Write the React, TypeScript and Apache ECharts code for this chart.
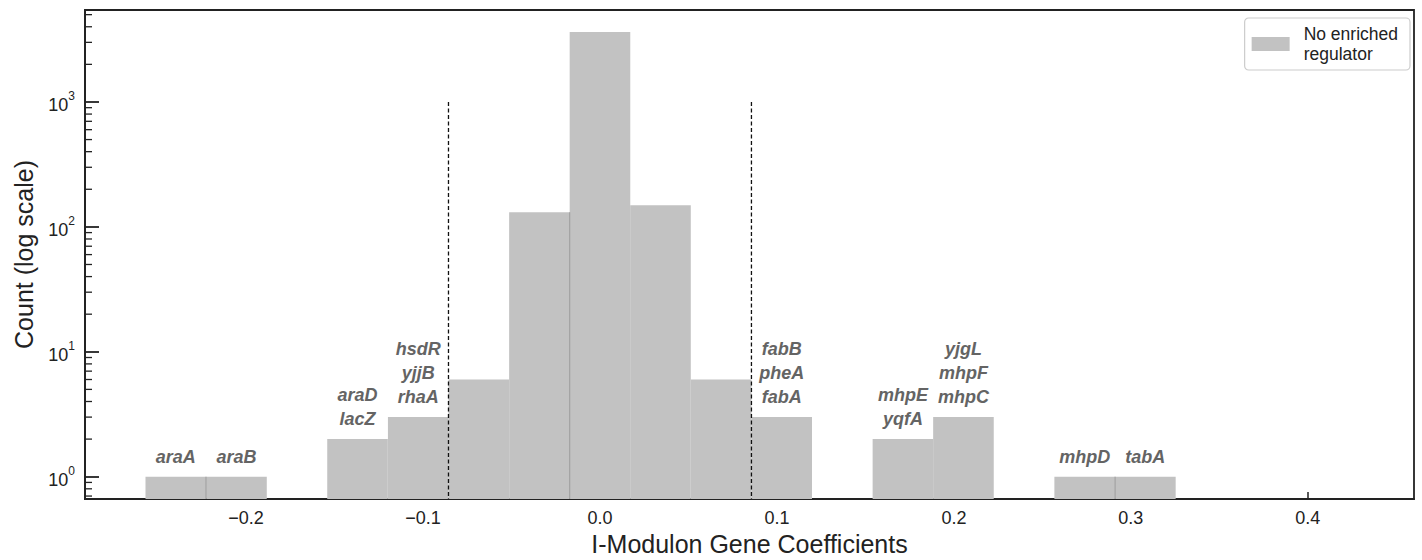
import React, { useEffect, useRef } from "react";
import * as echarts from "echarts";

// Histogram bins (bin centres, shared width) and counts per bin
const BIN_WIDTH = 0.03424;
const BIN_CENTERS = [
  -0.2397, -0.2054, -0.137, -0.1027, -0.0685, -0.0342, 0.0, 0.0342, 0.0685,
  0.1027, 0.1712, 0.2054, 0.2739, 0.3082,
];
const BIN_COUNTS = [1, 1, 2, 3, 6, 131, 3640, 149, 6, 3, 2, 3, 1, 1];
// Gene names printed above each outlying bin (top line first)
const BIN_GENES: string[][] = [
  ["araA"],
  ["araB"],
  ["araD", "lacZ"],
  ["hsdR", "yjjB", "rhaA"],
  [],
  [],
  [],
  [],
  [],
  ["fabB", "pheA", "fabA"],
  ["mhpE", "yqfA"],
  ["yjgL", "mhpF", "mhpC"],
  ["mhpD"],
  ["tabA"],
];
// Bin edges where a thin divider is visible between neighbouring bars
const DIVIDER_EDGES = [-0.2226, -0.0171, 0.2911];
// Significance thresholds (dashed lines) and their top value
const THRESHOLDS = [-0.0856, 0.0856];
const THRESHOLD_TOP = 1000;

const X_MIN = -0.291;
const X_MAX = 0.46;
const Y_MIN = 0.663;
const Y_MAX = 5448;

const MINOR_TICKS: number[] = [];
for (let e = -1; e <= 3; e++) {
  for (let m = 2; m <= 9; m++) {
    const v = m * Math.pow(10, e);
    if (v > Y_MIN && v < Y_MAX) MINOR_TICKS.push(v);
  }
}

const FONT = "Liberation Sans, Arial, sans-serif";
const BAR_COLOR = "#c2c2c2";
const LEGEND_NAME = "No enriched regulator";

export default function App() {
  const ref = useRef<HTMLDivElement>(null);

  useEffect(() => {
    if (!ref.current) return;
    const chart = echarts.init(ref.current, undefined, { renderer: "svg" });

    const barData = BIN_CENTERS.map((c, i) => [c, BIN_COUNTS[i], i]);

    chart.setOption({
      animation: false,
      backgroundColor: "#ffffff",
      grid: {
        left: 85,
        top: 10,
        width: 1329,
        height: 489,
        outerBoundsMode: "none",
        containLabel: false,
        show: true,
        borderColor: "#222222",
        borderWidth: 1.8,
        backgroundColor: "transparent",
      },
      legend: {
        right: 12,
        top: 18,
        orient: "vertical",
        data: [{ name: LEGEND_NAME, icon: "rect" }],
        itemWidth: 38,
        itemHeight: 14,
        padding: [6, 12, 6, 7],
        borderColor: "#cccccc",
        borderWidth: 1.2,
        borderRadius: 4,
        backgroundColor: "#ffffff",
        selectedMode: false,
        formatter: () => "No enriched\nregulator",
        textStyle: {
          fontFamily: FONT,
          fontSize: 17.5,
          lineHeight: 20,
          color: "#222222",
          padding: [0, 0, 0, 9],
        },
      },
      xAxis: {
        type: "value",
        min: X_MIN,
        max: X_MAX,
        minInterval: 0.1,
        maxInterval: 0.1,
        name: "I-Modulon Gene Coefficients",
        nameLocation: "middle",
        nameGap: 32,
        nameTextStyle: { fontFamily: FONT, fontSize: 25, color: "#222222" },
        axisLine: { onZero: false, lineStyle: { color: "#222222", width: 1.8 } },
        axisTick: { inside: true, length: 7, lineStyle: { color: "#222222", width: 1.5 } },
        axisLabel: {
          fontFamily: FONT,
          fontSize: 18,
          color: "#222222",
          margin: 10,
          showMinLabel: false,
          showMaxLabel: false,
          formatter: (v: number) => {
            const s = Math.abs(v).toFixed(1);
            return v < -1e-9 ? "\u2212" + s : s;
          },
        },
        splitLine: { show: false },
      },
      yAxis: {
        type: "log",
        logBase: 10,
        min: Y_MIN,
        max: Y_MAX,
        name: "Count (log scale)",
        nameLocation: "middle",
        nameGap: 49,
        nameRotate: 90,
        nameTextStyle: { fontFamily: FONT, fontSize: 25, color: "#222222" },
        axisLine: { onZero: false, lineStyle: { color: "#222222", width: 1.8 } },
        axisTick: { inside: true, length: 14, lineStyle: { color: "#222222", width: 1.8 } },
        axisLabel: {
          fontFamily: FONT,
          color: "#222222",
          margin: 10,
          showMinLabel: false,
          showMaxLabel: false,
          formatter: (v: number) => "{b|10}{s|" + Math.round(Math.log10(v)) + "}",
          rich: {
            b: { fontFamily: FONT, fontSize: 18, color: "#222222", lineHeight: 24, verticalAlign: "bottom" },
            s: { fontFamily: FONT, fontSize: 12, color: "#222222", lineHeight: 24, verticalAlign: "top" },
          },
        },
        splitLine: { show: false },
      },
      series: [
        {
          name: LEGEND_NAME,
          type: "custom",
          itemStyle: { color: BAR_COLOR },
          data: barData,
          z: 2,
          renderItem: (params: any, api: any) => {
            const c = api.value(0);
            const n = api.value(1);
            const idx = api.value(2);
            const p0 = api.coord([c - BIN_WIDTH / 2, n]);
            const p1 = api.coord([c + BIN_WIDTH / 2, Y_MIN]);
            const genes = BIN_GENES[idx] || [];
            const children: any[] = [
              {
                type: "rect",
                shape: { x: p0[0], y: p0[1], width: p1[0] - p0[0], height: p1[1] - p0[1] },
                style: { fill: BAR_COLOR },
              },
            ];
            if (genes.length) {
              children.push({
                type: "text",
                x: (p0[0] + p1[0]) / 2,
                y: p0[1] - 8,
                style: {
                  text: genes.join("\n"),
                  fontFamily: FONT,
                  fontSize: 18,
                  fontWeight: "bold",
                  fontStyle: "italic",
                  lineHeight: 24,
                  fill: "#646464",
                  align: "center",
                  verticalAlign: "bottom",
                },
              });
            }
            return { type: "group", children };
          },
        },
        {
          // thin dividers between adjacent bars
          type: "custom",
          data: DIVIDER_EDGES.map((e) => [e]),
          z: 3,
          silent: true,
          renderItem: (params: any, api: any) => {
            const e = api.value(0);
            let h = Y_MIN;
            BIN_CENTERS.forEach((c, i) => {
              if (Math.abs(c - BIN_WIDTH / 2 - e) < 1e-3) h = BIN_COUNTS[i];
            });
            BIN_CENTERS.forEach((c, i) => {
              if (Math.abs(c + BIN_WIDTH / 2 - e) < 1e-3) h = Math.min(h, BIN_COUNTS[i]);
            });
            const a = api.coord([e, h]);
            const b = api.coord([e, Y_MIN]);
            return {
              type: "line",
              shape: { x1: a[0], y1: a[1], x2: b[0], y2: b[1] },
              style: { stroke: "#9a9a9a", lineWidth: 1 },
            };
          },
        },
        {
          // threshold lines
          type: "custom",
          data: THRESHOLDS.map((t) => [t]),
          z: 4,
          silent: true,
          renderItem: (params: any, api: any) => {
            const t = api.value(0);
            const a = api.coord([t, THRESHOLD_TOP]);
            const b = api.coord([t, Y_MIN]);
            return {
              type: "line",
              shape: { x1: a[0], y1: a[1], x2: b[0], y2: b[1] },
              style: { stroke: "#111111", lineWidth: 1.3, lineDash: [4, 2.5] },
            };
          },
        },
        {
          // minor ticks on the log axis
          type: "custom",
          data: MINOR_TICKS.map((v) => [X_MIN, v]),
          z: 5,
          silent: true,
          renderItem: (params: any, api: any) => {
            const p = api.coord([X_MIN, api.value(1)]);
            return {
              type: "line",
              shape: { x1: p[0], y1: p[1], x2: p[0] + 7, y2: p[1] },
              style: { stroke: "#222222", lineWidth: 1.3 },
            };
          },
        },
      ],
    });

    return () => chart.dispose();
  }, []);

  return (
    <div
      ref={ref}
      style={{ position: "absolute", left: 0, top: 0, width: 1422, height: 560 }}
    />
  );
}
